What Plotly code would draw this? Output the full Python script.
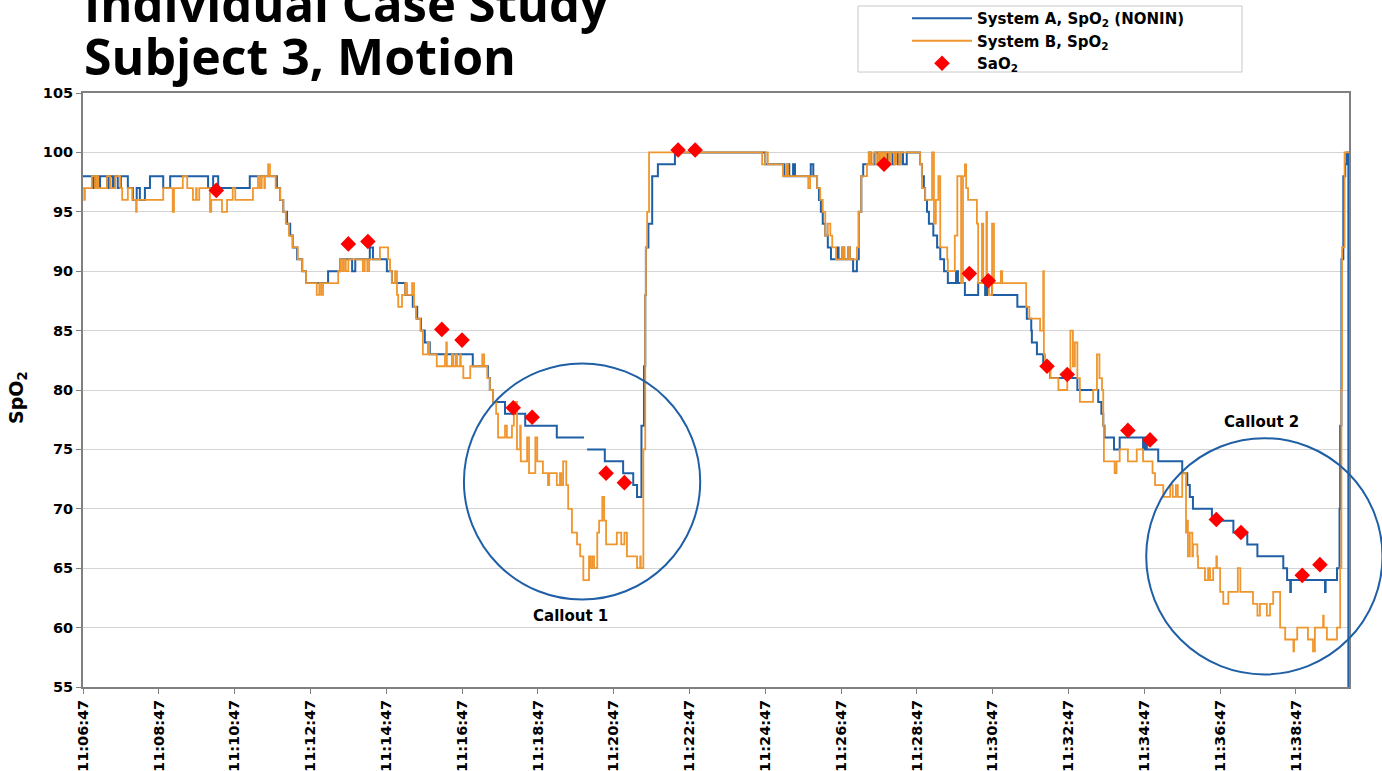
import pandas as pd
import plotly.graph_objects as go

# ---------------- data ----------------
START = "2000-01-01 11:06:47"          # first tick of the time axis
X_END_SEC = 2004                        # axis end, seconds after START

# System A (blue) step samples: seconds after 11:06:47, SpO2
a_sec = [
    0, 16, 19, 24, 27, 38, 41, 47, 49, 55, 60, 71, 79, 85, 90, 98, 106, 127, 138, 198,
    206, 214, 264, 307, 312, 317, 323, 328, 332, 339, 347, 353, 388, 407, 426, 431, 454, 459, 481, 489,
    510, 522, 529, 535, 541, 549, 617, 641, 644, 649, 668, 700, 750, 793, 794, 798, 826, 855, 871, 877,
    884, 888, 890, 891, 895, 901, 910, 937, 1080, 1110, 1115, 1118, 1124, 1127, 1152, 1156, 1162, 1165, 1168, 1171,
    1175, 1179, 1184, 1194, 1196, 1202, 1205, 1211, 1214, 1219, 1225, 1228, 1232, 1235, 1244, 1247, 1254, 1259, 1262, 1273,
    1276, 1281, 1285, 1290, 1293, 1298, 1304, 1325, 1328, 1331, 1333, 1336, 1339, 1346, 1352, 1357, 1363, 1369, 1382, 1385,
    1396, 1417, 1428, 1431, 1439, 1479, 1494, 1501, 1502, 1510, 1520, 1531, 1574, 1607, 1612, 1615, 1617, 1632, 1641, 1678,
    1681, 1684, 1702, 1740, 1748, 1752, 1757, 1787, 1821, 1843, 1859, 1900, 1906, 1911, 1912, 1966, 1967, 1985, 1989, 1990,
    1992, 1995, 1998, 2000, 2003,
]
a_val = [
    98, 97, 98, 97, 98, 97, 98, 97, 98, 97, 98, 97, 96, 97, 96, 97, 98, 97, 98, 97,
    98, 97, 98, 97, 96, 95, 94, 93, 92, 91, 90, 89, 90, 91, 90, 91, 92, 91, 90, 89,
    88, 87, 86, 85, 84, 83, 82, 81, 80, 79, 78, 77, 76, 76, None, 75, 74, 73, 72, 71,
    77, 82, 88, 92, 94, 98, 99, 100, 99, 98, 99, 98, 99, 98, 99, 98, 97, 96, 95, 94,
    93, 92, 91, 92, 91, 92, 91, 92, 91, 90, 91, 95, 98, 99, 100, 99, 100, 99, 100, 99,
    100, 99, 100, 99, 100, 99, 100, 99, 98, 97, 96, 95, 94, 93, 92, 91, 90, 89, 90, 89,
    88, 89, 88, 89, 88, 87, 86, 85, 84, 83, 82, 81, 80, 79, 78, 77, 76, 75, 76, 75,
    76, 75, 74, 73, 72, 71, 70, 69, 68, 67, 66, 65, 64, 63, 64, 63, 64, 65, 70, 77,
    91, 98, 99, 100, 55,
]

# System B (orange) step samples
b_sec = [
    0, 2, 3, 14, 19, 22, 24, 38, 43, 51, 59, 62, 71, 78, 84, 85, 127, 142, 144, 158,
    165, 174, 179, 180, 184, 201, 203, 220, 228, 237, 241, 269, 277, 280, 283, 287, 288, 293, 296, 305,
    312, 317, 321, 326, 332, 340, 347, 353, 370, 374, 377, 380, 404, 407, 410, 413, 416, 420, 443, 446,
    450, 453, 470, 483, 486, 489, 494, 497, 499, 505, 510, 513, 521, 524, 527, 534, 538, 546, 548, 560,
    573, 575, 576, 584, 586, 590, 592, 597, 598, 602, 613, 632, 635, 640, 644, 649, 654, 657, 668, 671,
    679, 682, 687, 692, 693, 703, 706, 716, 719, 728, 736, 738, 750, 755, 757, 760, 765, 768, 774, 782,
    787, 792, 801, 803, 806, 809, 814, 817, 822, 825, 828, 845, 852, 857, 861, 877, 882, 883, 887, 890,
    891, 893, 896, 1075, 1080, 1084, 1108, 1113, 1116, 1148, 1151, 1162, 1167, 1171, 1175, 1179, 1183, 1186, 1192, 1202,
    1205, 1211, 1214, 1225, 1228, 1232, 1241, 1244, 1247, 1251, 1255, 1259, 1262, 1265, 1268, 1271, 1276, 1279, 1284, 1287,
    1292, 1295, 1325, 1328, 1333, 1344, 1347, 1350, 1354, 1357, 1368, 1369, 1380, 1384, 1390, 1393, 1396, 1398, 1401, 1415,
    1417, 1423, 1425, 1430, 1431, 1434, 1439, 1442, 1453, 1455, 1493, 1498, 1515, 1520, 1521, 1523, 1531, 1544, 1558, 1563,
    1567, 1570, 1574, 1578, 1599, 1605, 1609, 1613, 1615, 1616, 1633, 1636, 1641, 1654, 1668, 1678, 1693, 1697, 1710, 1721,
    1725, 1730, 1733, 1740, 1746, 1748, 1749, 1752, 1756, 1757, 1764, 1765, 1776, 1781, 1784, 1789, 1794, 1795, 1800, 1805,
    1813, 1828, 1832, 1852, 1859, 1863, 1874, 1879, 1884, 1895, 1903, 1916, 1917, 1922, 1939, 1947, 1950, 1963, 1964, 1969,
    1985, 1990, 1992, 1993, 1997, 2004,
]
b_val = [
    97, 96, 97, 98, 97, 98, 97, 98, 97, 98, 97, 96, 97, 96, 95, 96, 97, 95, 97, 98,
    97, 96, 97, 96, 97, 95, 96, 95, 96, 97, 96, 97, 98, 97, 98, 97, 98, 99, 98, 97,
    96, 95, 94, 93, 92, 91, 90, 89, 88, 89, 88, 89, 90, 91, 90, 91, 90, 91, 90, 91,
    90, 91, 92, 91, 90, 89, 90, 88, 87, 88, 89, 88, 89, 87, 86, 85, 83, 84, 83, 82,
    83, 84, 82, 83, 82, 83, 82, 83, 82, 81, 82, 83, 82, 81, 80, 79, 78, 76, 77, 76,
    77, 79, 75, 77, 74, 76, 73, 76, 74, 73, 72, 73, 72, 73, 72, 74, 72, 70, 68, 67,
    66, 64, 66, 65, 66, 65, 68, 69, 71, 69, 67, 68, 67, 68, 66, 65, 66, 65, 75, 88,
    92, 95, 100, 99, 100, 99, 98, 99, 98, 97, 98, 97, 96, 95, 93, 94, 93, 92, 91, 92,
    91, 92, 91, 92, 95, 98, 99, 100, 99, 100, 99, 100, 99, 100, 99, 100, 99, 100, 99, 100,
    99, 100, 99, 97, 96, 100, 94, 96, 98, 92, 91, 90, 93, 98, 89, 98, 99, 97, 96, 94,
    89, 94, 89, 95, 89, 88, 94, 89, 90, 89, 87, 86, 85, 90, 83, 82, 81, 80, 81, 85,
    82, 84, 81, 79, 80, 83, 81, 80, 77, 74, 73, 74, 75, 74, 75, 74, 73, 72, 71, 72,
    71, 72, 71, 73, 68, 69, 66, 68, 66, 67, 66, 65, 64, 65, 64, 65, 66, 65, 63, 62,
    63, 65, 63, 62, 61, 62, 61, 62, 63, 60, 59, 58, 59, 60, 59, 58, 60, 61, 60, 59,
    60, 65, 80, 92, 100, 100,
]

# SaO2 blood samples
sao2_sec = [211, 420, 451, 568, 600, 681, 711, 828, 857, 942, 969, 1268,
            1403, 1433, 1526, 1558, 1654, 1689, 1794, 1833, 1930, 1958]
sao2_val = [96.8, 92.3, 92.5, 85.1, 84.2, 78.5, 77.7, 73.0, 72.2, 100.2, 100.2, 99.0,
            89.8, 89.2, 82.0, 81.3, 76.6, 75.8, 69.1, 68.0, 64.4, 65.3]

Y_MIN, Y_MAX = 55, 105

# callouts (data coordinates)
callout_labels = ["Callout 1", "Callout 2"]
callout_center_sec = [790, 1870]
callout_center_val = [72.3, 66.0]
callout_r_sec = 187
callout_r_val = 9.94
callout_label_sec = [771, 1866]
callout_label_val = [61.0, 77.3]

assert len(a_sec) == len(a_val) and len(b_sec) == len(b_val)

# ---------------- figure ----------------
start = pd.Timestamp(START)
def t(secs):
    return [start + pd.Timedelta(seconds=s) for s in secs]

W, H = 1382, 771
ML, MR, MT, MB = 83, 33, 93, 84
PW, PH = W - ML - MR, H - MT - MB

def px_x(p):
    return (p - ML) / PW

def px_y(p):
    return (H - MB - p) / PH

BLUE = "#1f5fa6"
ORANGE = "#f0962e"
TICKFONT = dict(family="DejaVu Sans", size=14.5, color="black", weight="bold")

fig = go.Figure()
fig.add_trace(go.Scatter(
    x=t(a_sec), y=a_val, mode="lines", connectgaps=False,
    line=dict(color=BLUE, width=2, shape="hv"),
    name="System A, SpO<sub>2</sub> (NONIN)"))
fig.add_trace(go.Scatter(
    x=t(b_sec), y=b_val, mode="lines",
    line=dict(color=ORANGE, width=1.8, shape="hv"),
    name="System B, SpO<sub>2</sub>"))
fig.add_trace(go.Scatter(
    x=t(sao2_sec), y=sao2_val, mode="markers",
    marker=dict(symbol="diamond", size=12, color="#ff0000", line=dict(width=0)),
    name="SaO<sub>2</sub>"))

shapes = []
# callout circles (converted from data coords to paper so they are not clipped)
for cs, cv in zip(callout_center_sec, callout_center_val):
    shapes.append(dict(
        type="circle", xref="paper", yref="paper",
        x0=(cs - callout_r_sec) / X_END_SEC, x1=(cs + callout_r_sec) / X_END_SEC,
        y0=(cv - callout_r_val - Y_MIN) / (Y_MAX - Y_MIN),
        y1=(cv + callout_r_val - Y_MIN) / (Y_MAX - Y_MIN),
        line=dict(color=BLUE, width=2)))
# legend frame
shapes.append(dict(type="rect", xref="paper", yref="paper",
                   x0=px_x(858), x1=px_x(1242), y0=px_y(72), y1=px_y(6),
                   line=dict(color="#c8c8c8", width=1)))

annotations = []
for lab, ls, lv in zip(callout_labels, callout_label_sec, callout_label_val):
    annotations.append(dict(
        x=start + pd.Timedelta(seconds=ls), y=lv, xref="x", yref="y",
        xanchor="center", yanchor="middle",
        text=lab, showarrow=False,
        font=dict(family="DejaVu Sans", size=15, color="black", weight="bold")))
annotations.append(dict(
    x=px_x(82), y=px_y(3), xref="paper", yref="paper", xanchor="left", yanchor="middle",
    text="Individual Case Study", showarrow=False,
    font=dict(family="Open Sans", size=49, color="black", weight="bold")))
annotations.append(dict(
    x=px_x(82), y=px_y(56), xref="paper", yref="paper", xanchor="left", yanchor="middle",
    text="Subject 3, Motion", showarrow=False,
    font=dict(family="Open Sans", size=50, color="black", weight="bold")))
annotations.append(dict(
    x=px_x(18), y=px_y(398), xref="paper", yref="paper",
    xanchor="center", yanchor="middle",
    text="SpO<sub>2</sub>", textangle=-90, showarrow=False,
    font=dict(family="DejaVu Sans", size=19, color="black", weight="bold")))

fig.update_layout(
    width=W, height=H,
    margin=dict(l=ML, r=MR, t=MT, b=MB, pad=0, autoexpand=False),
    paper_bgcolor="white", plot_bgcolor="white",
    showlegend=True,
    legend=dict(xref="container", yref="container",
                x=907 / W, y=1 - 2 / H, xanchor="left", yanchor="top",
                bgcolor="rgba(0,0,0,0)", borderwidth=0,
                font=dict(family="DejaVu Sans", size=15, color="black", weight="bold"),
                itemwidth=60, tracegroupgap=0),
    shapes=shapes, annotations=annotations,
    xaxis=dict(type="date", range=[start, start + pd.Timedelta(seconds=X_END_SEC)],
               tick0=start, dtick=120000, tickformat="%H:%M:%S", tickangle=-90,
               tickfont=TICKFONT, showgrid=False, zeroline=False, automargin=False,
               showline=True, linecolor="#808080", linewidth=2, mirror=True,
               ticks="outside", ticklen=5, tickcolor="#808080"),
    yaxis=dict(range=[Y_MIN, Y_MAX], dtick=5, tick0=55, tickfont=TICKFONT,
               showgrid=True, gridcolor="#d4d4d4", gridwidth=1, zeroline=False,
               automargin=False,
               showline=True, linecolor="#808080", linewidth=2, mirror=True,
               ticks="outside", ticklen=5, tickcolor="#808080"),
)

fig.write_html("out.html",
               config={"displayModeBar": False},
               post_script="document.body.style.margin='0';document.body.style.overflow='hidden';")
